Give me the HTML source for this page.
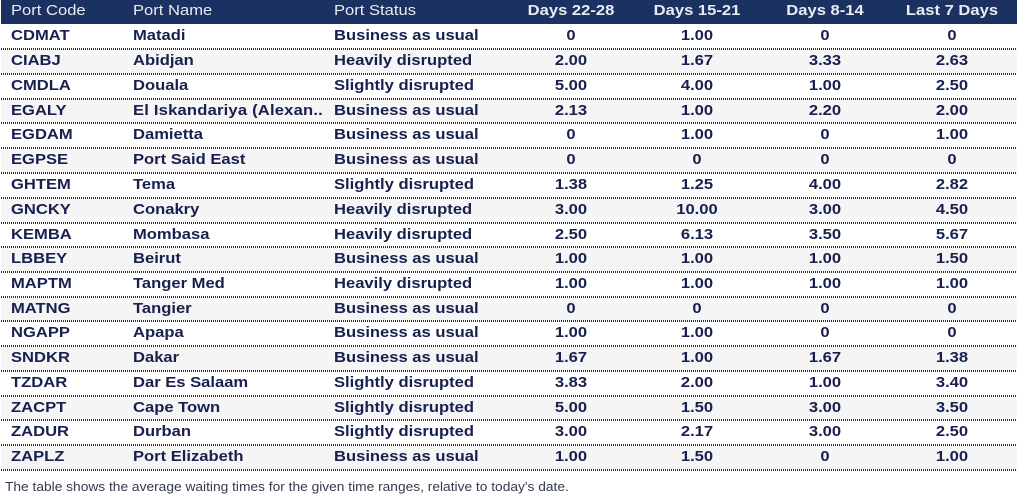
<!DOCTYPE html>
<html lang="en"><head><meta charset="utf-8"><title>Port waiting times</title>
<style>
html,body{margin:0;padding:0;background:#fff}
#page{position:relative;width:1017px;height:500px;overflow:hidden;background:#fff;font-family:"Liberation Sans",sans-serif}
#head{position:absolute;left:1px;top:0;width:1016px;height:24px;background:#1b3162;color:#e8ebf2}
.row{position:absolute;left:1px;width:1016px;height:25px;background:#fff;color:#17204f}
.row.alt{background:#f5f5f5}
.row.h24{height:24px}
.row:after{content:"";position:absolute;left:0;right:0;bottom:0;height:2px;background:repeating-linear-gradient(90deg,#2b2f48 0 1px,#fff 1px 2px)}
.c{position:absolute;top:0;height:22px;line-height:22px;font-size:15px;font-weight:bold;white-space:nowrap;transform:scaleX(1.105);transform-origin:0 50%}
#head .c{height:21px;line-height:21px}
.a{left:10px}.b{left:132px}.s{left:333px}
.n{width:120px;text-align:center;transform-origin:50% 50%}
.d1{left:510px}.d2{left:636px}.d3{left:764px}.d4{left:891px}
.h{font-weight:normal}
.wide{letter-spacing:.18px}
#note{position:absolute;left:5px;top:479px;font-size:13px;line-height:16px;color:#333a4c;white-space:nowrap;transform:scaleX(1.058);transform-origin:0 50%}
</style></head><body>
<div id="page">
<div id="head">
<div class="c a h">Port Code</div>
<div class="c b h">Port Name</div>
<div class="c s h">Port Status</div>
<div class="c n d1">Days 22-28</div>
<div class="c n d2">Days 15-21</div>
<div class="c n d3">Days 8-14</div>
<div class="c n d4">Last 7 Days</div>
</div>

<div class="row" style="top:25px"><div class="c a">CDMAT</div><div class="c b">Matadi</div><div class="c s">Business as usual</div><div class="c n d1">0</div><div class="c n d2">1.00</div><div class="c n d3">0</div><div class="c n d4">0</div></div>

<div class="row alt" style="top:50px"><div class="c a">CIABJ</div><div class="c b">Abidjan</div><div class="c s">Heavily disrupted</div><div class="c n d1">2.00</div><div class="c n d2">1.67</div><div class="c n d3">3.33</div><div class="c n d4">2.63</div></div>

<div class="row" style="top:75px"><div class="c a">CMDLA</div><div class="c b">Douala</div><div class="c s">Slightly disrupted</div><div class="c n d1">5.00</div><div class="c n d2">4.00</div><div class="c n d3">1.00</div><div class="c n d4">2.50</div></div>

<div class="row alt h24" style="top:100px"><div class="c a">EGALY</div><div class="c b wide">El Iskandariya (Alexan..</div><div class="c s">Business as usual</div><div class="c n d1">2.13</div><div class="c n d2">1.00</div><div class="c n d3">2.20</div><div class="c n d4">2.00</div></div>

<div class="row" style="top:124px"><div class="c a">EGDAM</div><div class="c b">Damietta</div><div class="c s">Business as usual</div><div class="c n d1">0</div><div class="c n d2">1.00</div><div class="c n d3">0</div><div class="c n d4">1.00</div></div>

<div class="row alt" style="top:149px"><div class="c a">EGPSE</div><div class="c b">Port Said East</div><div class="c s">Business as usual</div><div class="c n d1">0</div><div class="c n d2">0</div><div class="c n d3">0</div><div class="c n d4">0</div></div>

<div class="row" style="top:174px"><div class="c a">GHTEM</div><div class="c b">Tema</div><div class="c s">Slightly disrupted</div><div class="c n d1">1.38</div><div class="c n d2">1.25</div><div class="c n d3">4.00</div><div class="c n d4">2.82</div></div>

<div class="row alt" style="top:199px"><div class="c a">GNCKY</div><div class="c b">Conakry</div><div class="c s">Heavily disrupted</div><div class="c n d1">3.00</div><div class="c n d2">10.00</div><div class="c n d3">3.00</div><div class="c n d4">4.50</div></div>

<div class="row h24" style="top:224px"><div class="c a">KEMBA</div><div class="c b">Mombasa</div><div class="c s">Heavily disrupted</div><div class="c n d1">2.50</div><div class="c n d2">6.13</div><div class="c n d3">3.50</div><div class="c n d4">5.67</div></div>

<div class="row alt" style="top:248px"><div class="c a">LBBEY</div><div class="c b">Beirut</div><div class="c s">Business as usual</div><div class="c n d1">1.00</div><div class="c n d2">1.00</div><div class="c n d3">1.00</div><div class="c n d4">1.50</div></div>

<div class="row" style="top:273px"><div class="c a">MAPTM</div><div class="c b">Tanger Med</div><div class="c s">Heavily disrupted</div><div class="c n d1">1.00</div><div class="c n d2">1.00</div><div class="c n d3">1.00</div><div class="c n d4">1.00</div></div>

<div class="row alt h24" style="top:298px"><div class="c a">MATNG</div><div class="c b">Tangier</div><div class="c s">Business as usual</div><div class="c n d1">0</div><div class="c n d2">0</div><div class="c n d3">0</div><div class="c n d4">0</div></div>

<div class="row" style="top:322px"><div class="c a">NGAPP</div><div class="c b">Apapa</div><div class="c s">Business as usual</div><div class="c n d1">1.00</div><div class="c n d2">1.00</div><div class="c n d3">0</div><div class="c n d4">0</div></div>

<div class="row alt" style="top:347px"><div class="c a">SNDKR</div><div class="c b">Dakar</div><div class="c s">Business as usual</div><div class="c n d1">1.67</div><div class="c n d2">1.00</div><div class="c n d3">1.67</div><div class="c n d4">1.38</div></div>

<div class="row" style="top:372px"><div class="c a">TZDAR</div><div class="c b">Dar Es Salaam</div><div class="c s">Slightly disrupted</div><div class="c n d1">3.83</div><div class="c n d2">2.00</div><div class="c n d3">1.00</div><div class="c n d4">3.40</div></div>

<div class="row alt h24" style="top:397px"><div class="c a">ZACPT</div><div class="c b">Cape Town</div><div class="c s">Slightly disrupted</div><div class="c n d1">5.00</div><div class="c n d2">1.50</div><div class="c n d3">3.00</div><div class="c n d4">3.50</div></div>

<div class="row" style="top:421px"><div class="c a">ZADUR</div><div class="c b">Durban</div><div class="c s">Slightly disrupted</div><div class="c n d1">3.00</div><div class="c n d2">2.17</div><div class="c n d3">3.00</div><div class="c n d4">2.50</div></div>

<div class="row alt" style="top:446px"><div class="c a">ZAPLZ</div><div class="c b">Port Elizabeth</div><div class="c s">Business as usual</div><div class="c n d1">1.00</div><div class="c n d2">1.50</div><div class="c n d3">0</div><div class="c n d4">1.00</div></div>

<div id="note">The table shows the average waiting times for the given time ranges, relative to today's date.</div>
</div>
</body></html>
